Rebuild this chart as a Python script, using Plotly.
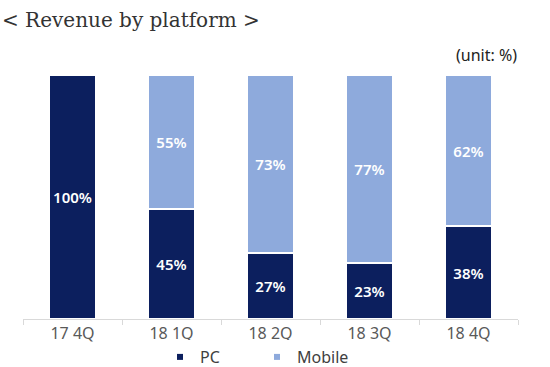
import plotly.graph_objects as go

categories = ["17 4Q", "18 1Q", "18 2Q", "18 3Q", "18 4Q"]
pc = [100, 45, 27, 23, 38]
mobile = [0, 55, 73, 77, 62]

PC_COLOR = "#0c1f5e"
MOB_COLOR = "#8eaadc"

L, R, T, B = 23, 32, 75, 48
W, H = 550, 367
pw = W - L - R
ph = H - T - B

def px2paper(px):
    return (px - L) / pw

fig = go.Figure()
fig.add_trace(go.Bar(
    x=categories, y=pc, name="PC", marker=dict(color=PC_COLOR, line=dict(color="white", width=2)),
    text=[f"{v}%" for v in pc], textposition="inside", insidetextanchor="middle",
    textfont=dict(color="white", size=15, family="Noto Sans", weight=600), showlegend=False,
))
fig.add_trace(go.Bar(
    x=categories, y=mobile, name="Mobile", marker=dict(color=MOB_COLOR, line=dict(color="white", width=2)),
    text=[f"{v}%" if v else "" for v in mobile], textposition="inside", insidetextanchor="middle",
    textfont=dict(color="white", size=15, family="Noto Sans", weight=600), showlegend=False,
))
for name, col in [("PC", PC_COLOR), ("Mobile", MOB_COLOR)]:
    fig.add_trace(go.Scatter(x=[None], y=[None], mode="markers", name=name,
                             marker=dict(symbol="square", size=6, color=col)))

fig.update_layout(
    width=W, height=H, barmode="stack", bargap=0.52,
    margin=dict(l=L, r=R, t=T, b=B, autoexpand=False),
    plot_bgcolor="white", paper_bgcolor="white",
    uniformtext=dict(minsize=8, mode="show"),
    xaxis=dict(showline=True, linecolor="#d9d9d9", linewidth=1, ticks="outside", tickson="boundaries",
               ticklen=5, tickcolor="#d9d9d9", tickfont=dict(size=16, color="#595959", family="Noto Sans"),
               showgrid=False),
    yaxis=dict(range=[0, 100], visible=False, showgrid=False),
    legend=dict(orientation="h", traceorder="normal", x=px2paper(160), xanchor="left",
                y=-(357 - 319) / ph, yanchor="middle", entrywidth=52, entrywidthmode="pixels",
                font=dict(size=16, color="#404040", family="Noto Sans")),
    annotations=[
        dict(text="< Revenue by platform >", xref="paper", yref="paper", x=px2paper(0), y=1 + (75 - 20) / ph,
             xanchor="left", yanchor="middle", showarrow=False,
             font=dict(size=20, color="#333333", family="DejaVu Serif")),
        dict(text="(unit: %)", xref="paper", yref="paper", x=px2paper(519), y=1 + (75 - 55) / ph,
             xanchor="right", yanchor="middle", showarrow=False,
             font=dict(size=16, color="#222222", family="Noto Sans")),
    ],
)
fig.write_html("out.html", config={"displayModeBar": False},
               post_script="document.body.style.margin='0px';")
